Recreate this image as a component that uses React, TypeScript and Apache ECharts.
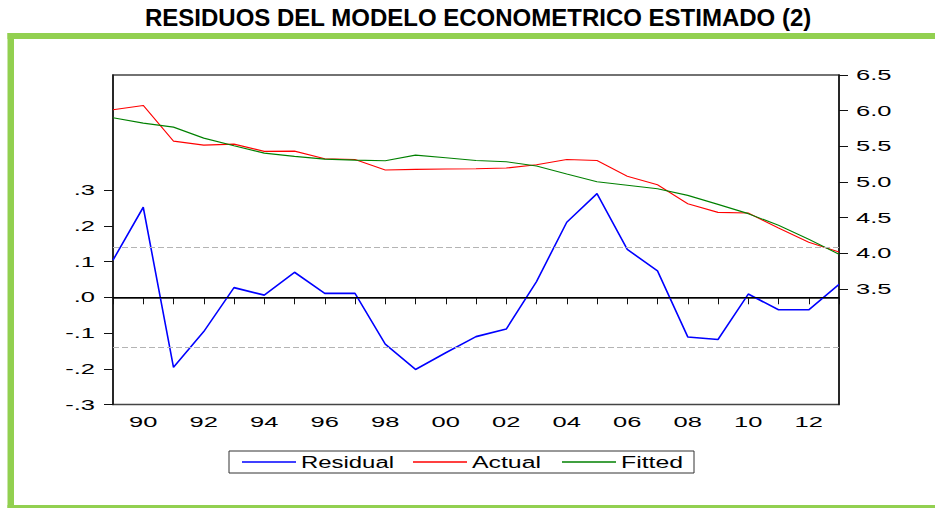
import React, { useEffect, useRef } from 'react';
import * as echarts from 'echarts';

const years = [1989, 1990, 1991, 1992, 1993, 1994, 1995, 1996, 1997, 1998, 1999, 2000, 2001, 2002, 2003, 2004, 2005, 2006, 2007, 2008, 2009, 2010, 2011, 2012, 2013];
const residual = [0.104, 0.252, -0.196, -0.096, 0.027, 0.006, 0.070, 0.011, 0.011, -0.131, -0.202, -0.155, -0.110, -0.089, 0.044, 0.210, 0.290, 0.134, 0.074, -0.111, -0.118, 0.009, -0.035, -0.035, 0.036];
const actual = [6.013, 6.073, 5.573, 5.517, 5.531, 5.429, 5.433, 5.326, 5.316, 5.167, 5.177, 5.181, 5.186, 5.195, 5.242, 5.316, 5.302, 5.080, 4.962, 4.696, 4.574, 4.565, 4.354, 4.154, 4.018];
const fitted = [5.900, 5.825, 5.769, 5.615, 5.508, 5.405, 5.359, 5.321, 5.307, 5.298, 5.377, 5.340, 5.302, 5.284, 5.223, 5.111, 5.004, 4.955, 4.906, 4.812, 4.686, 4.556, 4.392, 4.196, 3.986];
const labelYears = [1990, 1992, 1994, 1996, 1998, 2000, 2002, 2004, 2006, 2008, 2010, 2012];
const residualTicks = [-0.3, -0.2, -0.1, 0, 0.1, 0.2, 0.3];
const levelTicks = [3.5, 4.0, 4.5, 5.0, 5.5, 6.0, 6.5];
const seBand = 0.1437;
const seriesNames = ['Residual', 'Actual', 'Fitted'];
const titleText = 'RESIDUOS DEL MODELO ECONOMETRICO ESTIMADO (2)';

const FONT = '"Liberation Sans", Arial, sans-serif';
const GREEN = '#92D050';

const legendTextLength: Record<string, number> = { Residual: 93, Actual: 69, Fitted: 62 };
const AXIS_STRETCH = 1.82;

export default function App() {
  const ref = useRef<HTMLDivElement>(null);

  useEffect(() => {
    if (!ref.current) return;
    const chart = echarts.init(ref.current, null, { renderer: 'svg' });

    const fmtResidual = (v: number) => {
      if (Math.abs(v) < 1e-9) return '.0';
      const d = Math.round(Math.abs(v) * 10);
      return (v < 0 ? '-' : '') + '.' + d;
    };

    const option: any = {
      animation: false,
      backgroundColor: '#ffffff',
      title: {
        text: titleText,
        left: 145,
        top: 5,
        padding: 0,
        textStyle: { fontFamily: FONT, fontSize: 24, fontWeight: 'bold', color: '#000' },
      },
      graphic: [
        { type: 'rect', left: 7.5, top: 33, shape: { width: 6.5, height: 475 }, style: { fill: GREEN } },
        { type: 'rect', left: 7.5, top: 33, shape: { width: 927.5, height: 6 }, style: { fill: GREEN } },
        { type: 'rect', left: 7.5, top: 505, shape: { width: 927.5, height: 3 }, style: { fill: GREEN } },
      ],
      legend: {
        data: seriesNames,
        left: 229,
        top: 451,
        orient: 'horizontal',
        icon: 'rect',
        itemWidth: 54,
        itemHeight: 1.3,
        itemGap: 16,
        padding: [3, 7, 3, 13],
        borderColor: '#333',
        borderWidth: 1,
        formatter: (name: string) => `{${name.toLowerCase()}|${name}}`,
        textStyle: {
          fontFamily: FONT,
          fontSize: 16,
          color: '#000',
          rich: {
            residual: { width: 96, lineHeight: 18, fontSize: 16, fontFamily: FONT, color: '#000' },
            actual: { width: 74, lineHeight: 18, fontSize: 16, fontFamily: FONT, color: '#000' },
            fitted: { width: 66, lineHeight: 18, fontSize: 16, fontFamily: FONT, color: '#000' },
          },
        },
      },
      grid: {
        left: 113,
        top: 75,
        width: 726,
        height: 329.5,
        show: true,
        borderColor: '#444',
        borderWidth: 1.5,
        backgroundColor: 'transparent',
      },
      xAxis: {
        type: 'value',
        min: 1989,
        max: 2013,
        interval: 1,
        axisLine: { show: true, lineStyle: { color: '#111', width: 1.5 } },
        axisTick: { show: true, inside: false, length: 7, lineStyle: { color: '#111', width: 1 } },
        axisLabel: {
          margin: 10,
          fontSize: 14,
          fontFamily: FONT,
          color: '#000',
          formatter: (v: number) => (labelYears.includes(v) ? String(v % 100).padStart(2, '0') : ''),
        },
        splitLine: { show: false },
      },
      yAxis: [
        {
          type: 'value',
          position: 'left',
          min: -0.3,
          max: 0.622,
          axisLine: { show: true, lineStyle: { color: '#111', width: 1.5 } },
          axisTick: { show: true, inside: false, length: 9, customValues: residualTicks, lineStyle: { color: '#111', width: 1 } },
          axisLabel: { customValues: residualTicks, margin: 18, fontSize: 14, fontFamily: FONT, color: '#000', formatter: fmtResidual },
          splitLine: { show: false },
        },
        {
          type: 'value',
          position: 'right',
          min: 1.88,
          max: 6.5,
          axisLine: { show: true, lineStyle: { color: '#111', width: 1.5 } },
          axisTick: { show: true, inside: false, length: 9, customValues: levelTicks, lineStyle: { color: '#111', width: 1 } },
          axisLabel: { customValues: levelTicks, margin: 17, fontSize: 14, fontFamily: FONT, color: '#000', formatter: (v: number) => v.toFixed(1) },
          splitLine: { show: false },
        },
      ],
      series: [
        {
          name: 'Residual',
          type: 'line',
          yAxisIndex: 0,
          data: years.map((y, i) => [y, residual[i]]),
          symbol: 'none',
          lineStyle: { color: '#0000ff', width: 1.6 },
          itemStyle: { color: '#0000ff' },
          markLine: {
            silent: true,
            symbol: 'none',
            label: { show: false },
            data: [
              { yAxis: 0, lineStyle: { color: '#000', type: 'solid', width: 1 } },
              { yAxis: seBand, lineStyle: { color: '#b4b4b4', type: [6, 3], width: 1 } },
              { yAxis: -seBand, lineStyle: { color: '#b4b4b4', type: [6, 3], width: 1 } },
            ],
          },
        },
        {
          name: 'Actual',
          type: 'line',
          yAxisIndex: 1,
          data: years.map((y, i) => [y, actual[i]]),
          symbol: 'none',
          lineStyle: { color: '#ff0000', width: 1.1 },
          itemStyle: { color: '#ff0000' },
        },
        {
          name: 'Fitted',
          type: 'line',
          yAxisIndex: 1,
          data: years.map((y, i) => [y, fitted[i]]),
          symbol: 'none',
          lineStyle: { color: '#008000', width: 1.1 },
          itemStyle: { color: '#008000' },
        },
      ],
    };

    chart.setOption(option);

    const stretch = () => {
      const root = ref.current;
      if (!root) return;
      root.querySelectorAll('text').forEach((node) => {
        const el = node as SVGTextElement;
        const s = (el.textContent || '').trim();
        if (!s) return;
        let target = 0;
        if (legendTextLength[s] !== undefined) {
          target = legendTextLength[s];
        } else if (/^-?[\d.]+$/.test(s)) {
          el.removeAttribute('textLength');
          const w = el.getComputedTextLength();
          target = w * AXIS_STRETCH;
        }
        if (target > 0) {
          el.setAttribute('textLength', String(target));
          el.setAttribute('lengthAdjust', 'spacingAndGlyphs');
        }
      });
    };
    chart.on('finished', stretch);
    stretch();
    const t1 = setTimeout(stretch, 30);
    const t2 = setTimeout(stretch, 200);

    return () => {
      clearTimeout(t1);
      clearTimeout(t2);
      chart.dispose();
    };
  }, []);

  return <div ref={ref} style={{ position: 'absolute', left: 0, top: 0, width: 935, height: 508 }} />;
}
